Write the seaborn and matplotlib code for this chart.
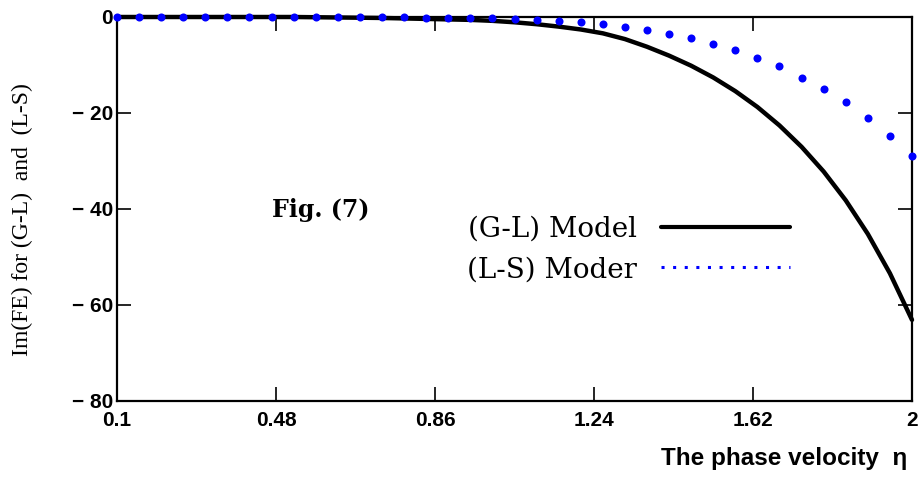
import numpy as np
import pandas as pd
import matplotlib
matplotlib.use("Agg")
import matplotlib.pyplot as plt
import seaborn as sns
from matplotlib.lines import Line2D

# ---- data ----
eta = np.linspace(0.1, 2.0, 37)
gl_values = [0, 0, 0, 0, 0, 0, 0, 0, 0, -0.05, -0.1, -0.15, -0.2, -0.3, -0.4,
             -0.5, -0.6, -0.8, -1.1, -1.5, -2.0, -2.6, -3.4, -4.6, -6.2, -8.05,
             -10.15, -12.6, -15.45, -18.75, -22.6, -27.05, -32.2, -38.2, -45.2,
             -53.4, -63.1]
ls_values = [0, 0, 0, 0, 0, 0, 0, 0, 0, -0.02, -0.04, -0.06, -0.08, -0.1, -0.12,
             -0.15, -0.25, -0.3, -0.4, -0.7, -0.9, -1.1, -1.5, -2.0, -2.7, -3.5,
             -4.4, -5.6, -6.9, -8.6, -10.2, -12.7, -14.9, -17.7, -21.1, -24.8,
             -29.0]
x_ticks = [0.1, 0.48, 0.86, 1.24, 1.62, 2.0]
x_ticklabels = ["0.1", "0.48", "0.86", "1.24", "1.62", "2"]
y_ticks = [0, -20, -40, -60, -80]
y_ticklabels = ["0", "\u2212 20", "\u2212 40", "\u2212 60", "\u2212 80"]
labels = ["(G-L) Model", "(L-S) Moder"]

df = pd.DataFrame({"eta": eta, "gl": gl_values, "ls": ls_values})

sns.set_theme(style="white")
plt.rcParams["font.family"] = ["Liberation Sans", "DejaVu Sans"]
plt.rcParams["text.color"] = "black"
plt.rcParams["xtick.color"] = "black"
plt.rcParams["ytick.color"] = "black"

fig = plt.figure(figsize=(9.24, 4.79), dpi=100)
ax = fig.add_axes([117 / 924, 78 / 479, 795 / 924, 384 / 479])

sns.lineplot(data=df, x="eta", y="gl", ax=ax, color="black", linewidth=3.2,
             clip_on=False, zorder=3)
sns.lineplot(data=df, x="eta", y="ls", ax=ax, color="#0000ff", linestyle="",
             marker="o", markersize=5.8, markeredgewidth=0, clip_on=False,
             zorder=4)

ax.set_xlim(0.1, 2.0)
ax.set_ylim(-80, 0)
ax.set_xticks(x_ticks)
ax.set_xticklabels(x_ticklabels)
ax.set_yticks(y_ticks)
ax.set_yticklabels(y_ticklabels)
ax.tick_params(axis="both", which="both", direction="in", length=10, width=1.2,
               color="black", labelcolor="black", top=True, right=True,
               bottom=True, left=True, labelsize=15)
ax.tick_params(axis="x", pad=7)
ax.tick_params(axis="y", pad=3)
for lab in ax.get_xticklabels() + ax.get_yticklabels():
    lab.set_fontweight("bold")
for sp in ax.spines.values():
    sp.set_visible(True)
    sp.set_color("black")
    sp.set_linewidth(1.6)

ax.set_xlabel("")
ax.set_ylabel("")
fig.text(907 / 924, 1 - 459 / 479, "The phase velocity  \u03b7", ha="right",
         va="center", fontsize=17.5, fontweight="bold", color="black")
fig.text(22 / 924, 1 - 220 / 479, "Im(FE) for (G-L)  and  (L-S)", rotation=90,
         ha="center", va="center", fontsize=17, color="black",
         family=["Liberation Serif", "DejaVu Serif"])

ax.text((272 - 117) / 795, (401 - 210) / 384, "Fig. (7)",
        transform=ax.transAxes, ha="left", va="center", fontsize=17,
        fontweight="bold", color="black",
        family=["DejaVu Serif", "Liberation Serif"])

handles = [Line2D([], [], color="black", linewidth=3),
           Line2D([], [], color="#0000ff", linestyle=(0, (1, 2.8)),
                  linewidth=2.2)]
leg = ax.legend(handles, labels, loc="upper left",
                bbox_to_anchor=((467 - 117) / 795, 0.483), markerfirst=False,
                frameon=False, borderaxespad=0, borderpad=0,
                handlelength=4.64, handletextpad=0.86, labelspacing=0.49,
                prop={"family": ["DejaVu Serif", "Liberation Serif"],
                      "size": 20})
for t in leg.get_texts():
    t.set_color("black")

fig.savefig("out.png", dpi=100)
